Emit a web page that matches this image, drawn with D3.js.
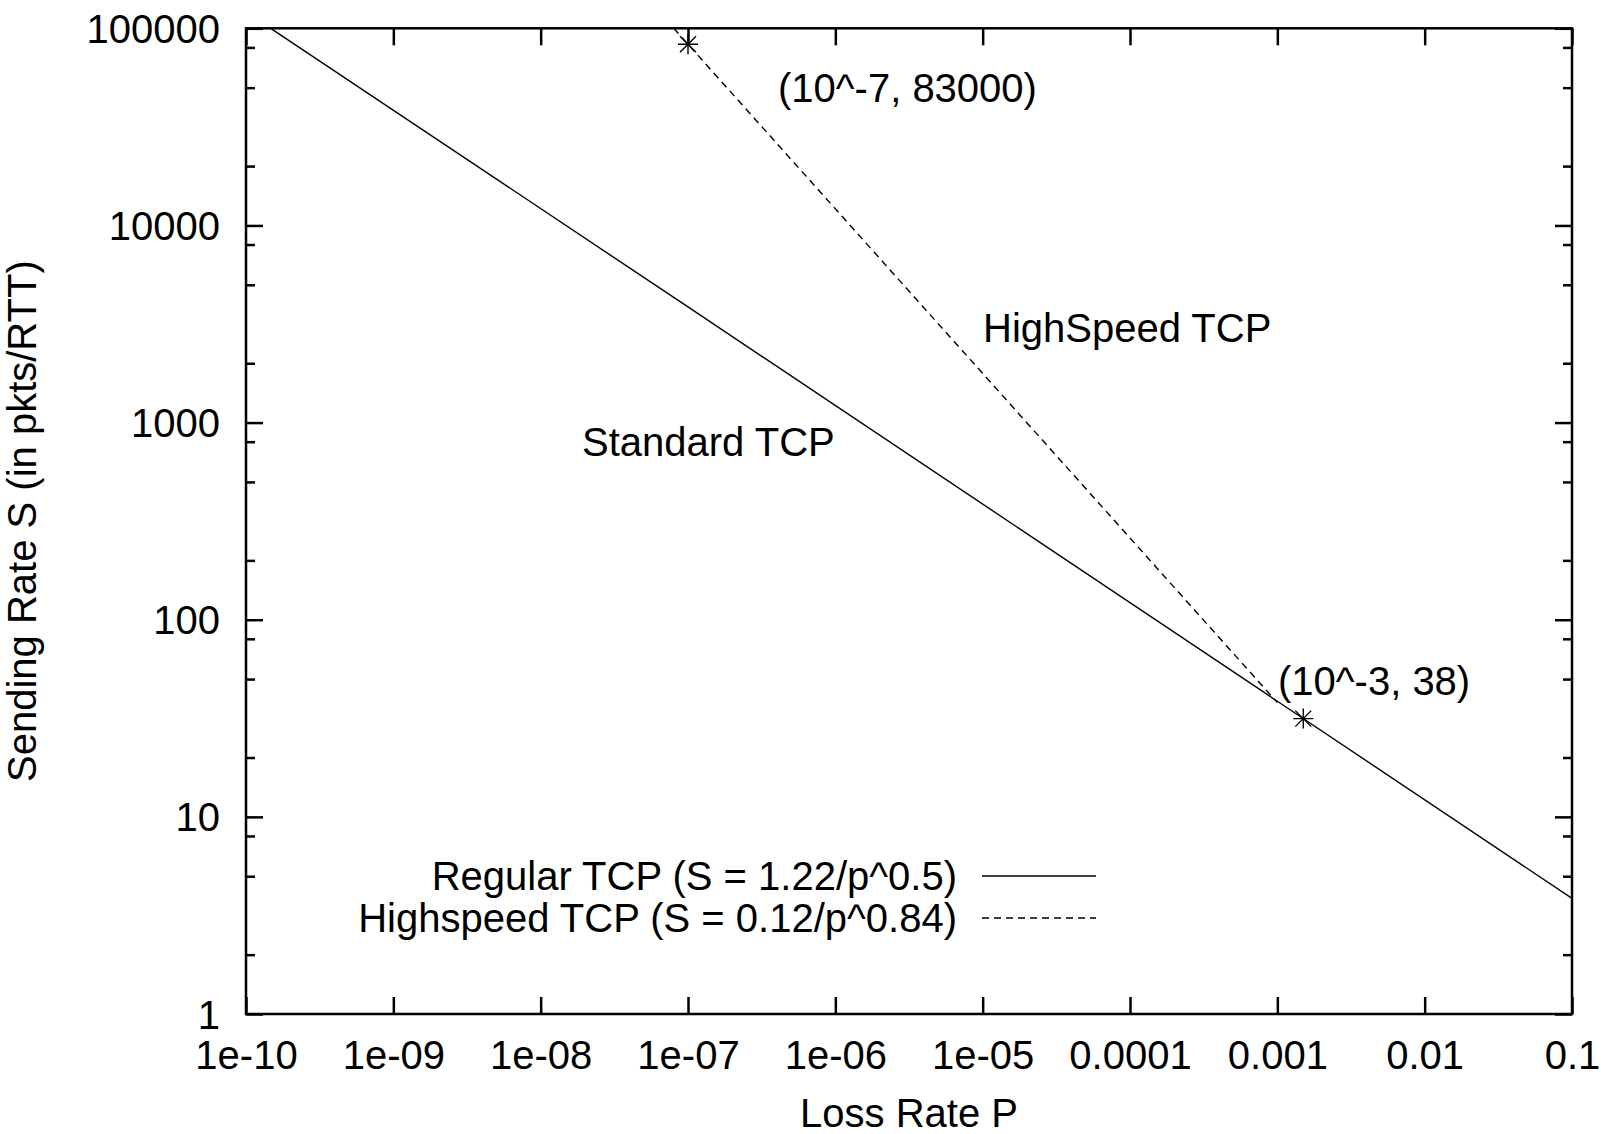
<html>
<head>
<title>loss rate vs sending rate</title>
<style>
  body { margin: 0; background: #fff; }
  text { font-family: "Liberation Sans", Arial, Helvetica, sans-serif; fill: #000; }
</style>
</head>
<body>
<script src="https://d3js.org/d3.v7.min.js"></script>
<script>
// data
var xTicks = [1e-10, 1e-9, 1e-8, 1e-7, 1e-6, 1e-5, 1e-4, 1e-3, 1e-2, 1e-1]
var xTickLabels = ["1e-10", "1e-09", "1e-08", "1e-07", "1e-06", "1e-05", "0.0001", "0.001", "0.01", "0.1"]
var yTicks = [1, 10, 100, 1000, 10000, 100000]
var yTickLabels = ["1", "10", "100", "1000", "10000", "100000"]
var yMinorMult = [2, 5, 8]

// Regular TCP (S = 1.22/p^0.5)
var regularP = [1.47e-10, 1e-7, 1e-3, 0.1]
var regularS = [100000, 3860, 38.6, 3.86]
// Highspeed TCP (S = 0.12/p^0.84)
var highP = [8e-8, 1e-7, 1e-3]
var highS = [100000, 83000, 38]
// star points
var markP = [1e-7, 1.5e-3]
var markS = [83000, 31.5]

var labels = [
    {text: "(10^-7, 83000)", x: 778, y: 102},
    {text: "HighSpeed TCP", x: 983, y: 342},
    {text: "Standard TCP", x: 582, y: 456},
    {text: "(10^-3, 38)", x: 1278, y: 695}
]
var legendItems = ["Regular TCP (S = 1.22/p^0.5)", "Highspeed TCP (S = 0.12/p^0.84)"]

var width = 1601
var height = 1134
var plot = {left: 246, right: 1572, top: 28.3, bottom: 1014}
var fontSize = 40

var svg = d3.select('body')
    .append('svg')
    .attr('width', width)
    .attr('height', height)

var xScale = d3.scaleLog()
    .domain([1e-10, 0.1])
    .range([plot.left, plot.right])

var yScale = d3.scaleLog()
    .domain([1, 100000])
    .range([plot.bottom, plot.top])

var yMinor = []
yTicks.slice(0, -1).forEach(function(t) {
    yMinorMult.forEach(function(m) { yMinor.push(t * m) })
})

// axes: ticks point inward like gnuplot
function styleAxis(g) {
    g.select('.domain').remove()
    g.selectAll('line').attr('stroke', '#000').attr('stroke-width', 2.5)
}

svg.append('g')
    .attr('transform', 'translate(0,' + plot.bottom + ')')
    .call(d3.axisBottom(xScale).tickValues(xTicks).tickSize(-17).tickSizeOuter(0)
        .tickFormat(function(d, i) { return xTickLabels[i] }))
    .call(styleAxis)
    .call(function(g) {
        g.selectAll('text').attr('y', 55).attr('dy', 0)
            .style('font-size', fontSize + 'px').attr('font-family', null)
    })

svg.append('g')
    .attr('transform', 'translate(0,' + plot.top + ')')
    .call(d3.axisTop(xScale).tickValues(xTicks).tickSize(-17).tickSizeOuter(0).tickFormat(''))
    .call(styleAxis)

svg.append('g')
    .attr('transform', 'translate(' + plot.left + ',0)')
    .call(d3.axisLeft(yScale).tickValues(yTicks).tickSize(-17).tickSizeOuter(0)
        .tickFormat(function(d, i) { return yTickLabels[i] }))
    .call(styleAxis)
    .call(function(g) {
        g.selectAll('text').attr('x', -26).attr('dy', '0.35em')
            .style('font-size', fontSize + 'px').attr('font-family', null)
    })

svg.append('g')
    .attr('transform', 'translate(' + plot.left + ',0)')
    .call(d3.axisLeft(yScale).tickValues(yMinor).tickSize(-9).tickSizeOuter(0).tickFormat(''))
    .call(styleAxis)

svg.append('g')
    .attr('transform', 'translate(' + plot.right + ',0)')
    .call(d3.axisRight(yScale).tickValues(yTicks).tickSize(-17).tickSizeOuter(0).tickFormat(''))
    .call(styleAxis)

svg.append('g')
    .attr('transform', 'translate(' + plot.right + ',0)')
    .call(d3.axisRight(yScale).tickValues(yMinor).tickSize(-9).tickSizeOuter(0).tickFormat(''))
    .call(styleAxis)

// frame
svg.append('rect')
    .attr('x', plot.left)
    .attr('y', plot.top)
    .attr('width', plot.right - plot.left)
    .attr('height', plot.bottom - plot.top)
    .attr('fill', 'none')
    .attr('stroke', '#000')
    .attr('stroke-width', 2.5)

// axis titles
svg.append('text')
    .attr('x', (plot.left + plot.right) / 2)
    .attr('y', 1127)
    .attr('text-anchor', 'middle')
    .style('font-size', fontSize + 'px')
    .text('Loss Rate P')

svg.append('text')
    .attr('transform', 'translate(36,' + (plot.top + plot.bottom) / 2 + ') rotate(-90)')
    .attr('text-anchor', 'middle')
    .style('font-size', fontSize + 'px')
    .text('Sending Rate S (in pkts/RTT)')

// curves
svg.append('clipPath').attr('id', 'clip')
    .append('rect')
    .attr('x', plot.left).attr('y', plot.top)
    .attr('width', plot.right - plot.left).attr('height', plot.bottom - plot.top)

var line = d3.line()
    .x(function(d) { return xScale(d[0]) })
    .y(function(d) { return yScale(d[1]) })

var plotArea = svg.append('g').attr('clip-path', 'url(#clip)')

plotArea.append('path')
    .datum(d3.zip(regularP, regularS))
    .attr('d', line)
    .attr('fill', 'none')
    .attr('stroke', '#000')
    .attr('stroke-width', 1.4)

plotArea.append('path')
    .datum(d3.zip(highP, highS))
    .attr('d', line)
    .attr('fill', 'none')
    .attr('stroke', '#000')
    .attr('stroke-width', 1.4)
    .attr('stroke-dasharray', '7,5')

// star markers (gnuplot pointtype 3)
var stars = svg.selectAll('.star')
    .data(d3.zip(markP, markS))
    .enter()
    .append('g')
    .attr('class', 'star')
    .attr('transform', function(d) { return 'translate(' + xScale(d[0]) + ',' + yScale(d[1]) + ')' })
stars.append('path')
    .attr('d', 'M-10,0H10M0,-10V10M-8,-8L8,8M-8,8L8,-8')
    .attr('stroke', '#000')
    .attr('stroke-width', 1.4)

// in-plot labels
svg.selectAll('.lbl')
    .data(labels)
    .enter()
    .append('text')
    .attr('class', 'lbl')
    .attr('x', function(d) { return d.x })
    .attr('y', function(d) { return d.y })
    .style('font-size', fontSize + 'px')
    .text(function(d) { return d.text })

// legend
var legend = svg.selectAll('.legend')
    .data(legendItems)
    .enter()
    .append('g')
    .attr('class', 'legend')
    .attr('transform', function(d, i) { return 'translate(0,' + (876 + i * 42) + ')' })
legend.append('text')
    .attr('x', 957)
    .attr('dy', '0.35em')
    .attr('text-anchor', 'end')
    .style('font-size', fontSize + 'px')
    .text(function(d) { return d })
legend.append('line')
    .attr('x1', 982).attr('x2', 1096)
    .attr('stroke', '#000')
    .attr('stroke-width', 1.4)
    .attr('stroke-dasharray', function(d, i) { return i == 0 ? null : '7,5' })
</script>
</body>
</html>
